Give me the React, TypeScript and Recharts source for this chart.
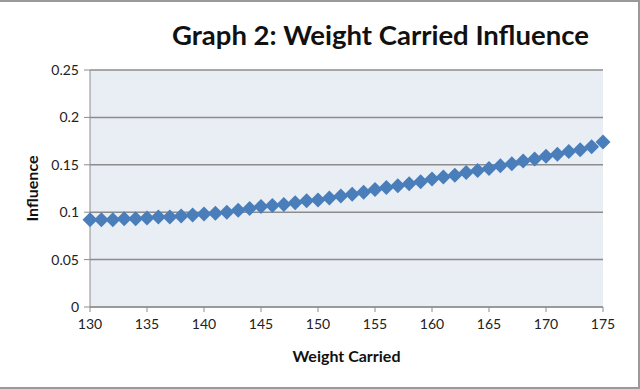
import React from 'react';
import { ScatterChart, Scatter, XAxis, YAxis, CartesianGrid } from 'recharts';

const weights = [
  130, 131, 132, 133, 134, 135, 136, 137, 138, 139,
  140, 141, 142, 143, 144, 145, 146, 147, 148, 149,
  150, 151, 152, 153, 154, 155, 156, 157, 158, 159,
  160, 161, 162, 163, 164, 165, 166, 167, 168, 169,
  170, 171, 172, 173, 174, 175,
];

const influence = [
  0.092, 0.092, 0.092, 0.093, 0.093, 0.094, 0.095, 0.095, 0.096, 0.097,
  0.098, 0.099, 0.1, 0.102, 0.104, 0.106, 0.107, 0.108, 0.11, 0.112,
  0.113, 0.115, 0.117, 0.119, 0.121, 0.124, 0.126, 0.128, 0.13, 0.132,
  0.135, 0.137, 0.139, 0.142, 0.144, 0.146, 0.149, 0.151, 0.154, 0.156,
  0.159, 0.161, 0.164, 0.166, 0.169, 0.174,
];

const xTicks = [130, 135, 140, 145, 150, 155, 160, 165, 170, 175];
const yTicks = [0, 0.05, 0.1, 0.15, 0.2, 0.25];

const data = weights.map((w, i) => ({ weight: w, influence: influence[i] }));

const FONT = 'Lato, "Open Sans", sans-serif';

// square diamond like the Excel marker
const Diamond = (props: any) => {
  const { cx, cy } = props;
  const r = 7.5;
  return (
    <polygon
      points={`${cx},${cy - r} ${cx + r},${cy} ${cx},${cy + r} ${cx - r},${cy}`}
      fill="#4a7ebb"
    />
  );
};

export default function App() {
  return (
    <div
      style={{
        position: 'absolute',
        left: 0,
        top: 0,
        width: 640,
        height: 389,
        background: '#fff',
        fontFamily: FONT,
        boxSizing: 'border-box',
        borderTop: '2px solid #9a9a9a',
        borderRight: '2px solid #9a9a9a',
        borderBottom: '2px solid #9a9a9a',
      }}
    >
      <div
        style={{
          position: 'absolute',
          left: 172,
          top: 16,
          fontSize: 27.5,
          fontWeight: 700,
          color: '#111',
          whiteSpace: 'nowrap',
        }}
      >
        Graph 2: Weight Carried Influence
      </div>
      <div style={{ position: 'absolute', left: -2, top: -2 }}>
        <ScatterChart
          width={640}
          height={389}
          margin={{ top: 70, right: 35, bottom: 52, left: 42 }}
        >
          <CartesianGrid
            vertical={false}
            stroke="#8c8c8c"
            strokeWidth={1.5}
            fill="#e9edf4"
          />
          <XAxis
            type="number"
            dataKey="weight"
            domain={[130, 175]}
            ticks={xTicks}
            interval={0}
            height={30}
            stroke="#8c8c8c"
            tickSize={5}
            tickMargin={7}
            tick={{ fill: '#222', fontSize: 14, fontFamily: FONT }}
            label={{
              value: 'Weight Carried',
              position: 'insideBottom',
              offset: -25,
              style: { fill: '#111', fontSize: 16, fontWeight: 700, fontFamily: FONT },
            }}
          />
          <YAxis
            type="number"
            dataKey="influence"
            domain={[0, 0.25]}
            ticks={yTicks}
            interval={0}
            width={50}
            stroke="#8c8c8c"
            tickSize={6}
            tickMargin={5}
            tick={{ fill: '#222', fontSize: 14, fontFamily: FONT }}
            label={{
              value: 'Influence',
              angle: -90,
              position: 'insideLeft',
              offset: -8,
              style: { textAnchor: 'middle', fill: '#111', fontSize: 16, fontWeight: 700, fontFamily: FONT },
            }}
          />
          <Scatter data={data} shape={<Diamond />} isAnimationActive={false} />
        </ScatterChart>
      </div>
    </div>
  );
}
